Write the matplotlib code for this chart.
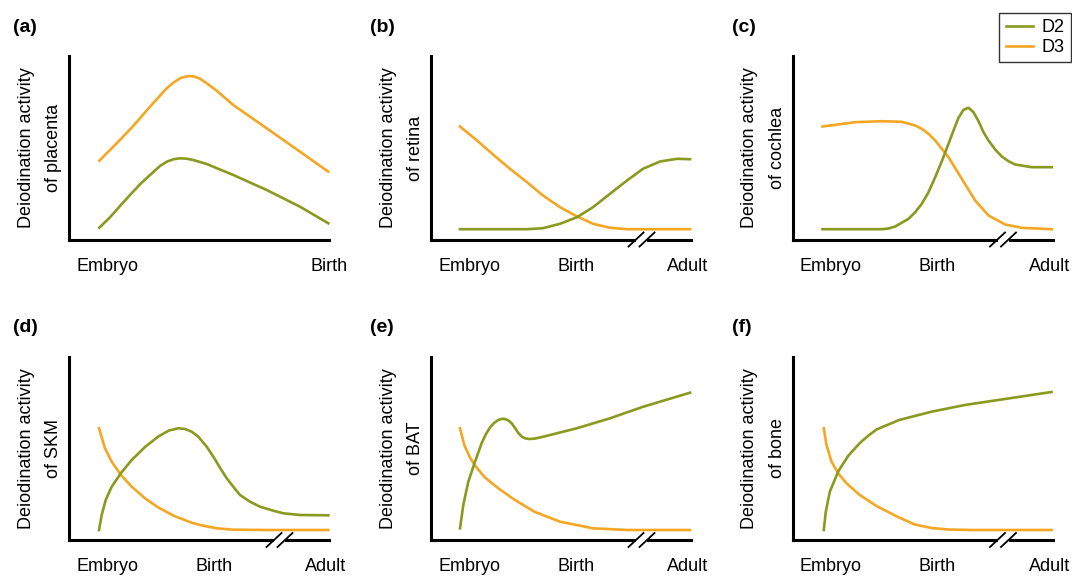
import matplotlib.pyplot as plt
from matplotlib.lines import Line2D

plt.rcParams['font.family'] = ['Liberation Sans', 'DejaVu Sans']
plt.rcParams['font.size'] = 13

GREEN = '#8a9a1f'
ORANGE = '#f5a623'

placenta_d2_x = [30.3, 41, 51, 61, 71, 81, 91, 97.7, 104.3, 111, 117.7, 124.3, 137.7, 164.3, 197.7, 231, 259.3]
placenta_d2_y = [11.8, 22.2, 33.5, 44.5, 55.2, 64.5, 73.5, 77.8, 80.2, 81.2, 80.8, 79.5, 75.5, 64.5, 49.5, 32.8, 16.2]
placenta_d3_x = [30.3, 47.7, 64.3, 81, 97.7, 104.3, 111, 116, 121, 126, 131, 137.7, 147.7, 164.3, 197.7, 231, 259.3]
placenta_d3_y = [78.8, 96.2, 113.5, 132.8, 151.2, 156.8, 161.2, 162.8, 163.5, 162.8, 160.8, 156.2, 148.8, 134.5, 111.2, 87.8, 67.8]

retina_d2_x = [29, 96, 112, 129, 146, 162, 179, 196, 212, 229, 246, 259]
retina_d2_y = [10.3, 10.3, 11.3, 15.7, 22.3, 32.3, 45.7, 59, 70.7, 78, 80.7, 80.3]
retina_d3_x = [29, 46, 62, 79, 96, 112, 129, 146, 162, 179, 196, 259]
retina_d3_y = [113, 99, 85, 70.7, 57.3, 44, 32.3, 23, 15.7, 11.7, 10.3, 10.3]

cochlea_d2_x = [30, 89.3, 96, 102.7, 116, 122.7, 129.3, 136, 142.7, 149.3, 156, 161, 166, 171, 176,
                181, 186, 191, 196, 202.7, 209.3, 216, 222.7, 239.3, 259.3]
cochlea_d2_y = [10.3, 10.3, 11, 13, 20.7, 27.3, 35.7, 47.3, 62.3, 78.3, 95.7, 109, 121.7, 129.7, 131.7,
                127.3, 118.3, 107.3, 99, 90, 83, 78.3, 75, 72.3, 72.3]
cochlea_d3_x = [30, 62.7, 89.3, 109.3, 122.7, 129.3, 136, 142.7, 156, 169.3, 182.7, 196, 212.7, 229.3, 259.3]
cochlea_d3_y = [113, 117.3, 118.3, 117.7, 114, 110.7, 105.7, 99, 82.3, 60.7, 39, 24, 15, 11.7, 10.3]

skm_d2_x = [30, 32.7, 36.7, 42.7, 52, 62.7, 76, 89.3, 100, 109.3, 116, 122.7, 129.3, 137.7,
            144.3, 151, 157.7, 164.3, 171, 181, 191, 204.3, 214.3, 231, 259.3]
skm_d2_y = [10, 25, 40, 53.3, 67, 80, 93, 103.5, 109.5, 111.7, 111, 108.3, 103.3, 93.3,
            83.3, 72.3, 61.7, 53.3, 45, 38.3, 33.3, 29.3, 26.7, 25, 24.7]
skm_d3_x = [30, 36, 42.7, 52, 62.7, 76, 89.3, 105.3, 122, 131, 147.7, 164.3, 197.7, 259.3]
skm_d3_y = [111.7, 91.7, 78.3, 65, 53.3, 41.7, 32.5, 24, 17.5, 15, 11.7, 10.3, 10, 10]

bat_d2_x = [29, 32.3, 37.3, 44, 50.7, 55, 59, 63, 67.3, 71, 74, 77.5, 80.7, 84, 87.3, 90.7, 94, 98,
            103.3, 112.3, 145.7, 179, 212.3, 259]
bat_d2_y = [11.7, 35, 58.3, 78.3, 97, 106, 112.5, 117, 120, 121.2, 121, 119.5, 116.7, 112, 107, 103.5,
            101.7, 101, 101.3, 103.3, 111.7, 121.7, 133.3, 147.3]
bat_d3_x = [29, 33.3, 39, 44.7, 54, 67.3, 84, 103.3, 129, 162, 196, 259]
bat_d3_y = [111.7, 95, 82.5, 73.5, 62.5, 51.7, 40, 28.3, 18.3, 11.7, 10, 10]

bone_d2_x = [31.3, 33.3, 37.3, 45.7, 55.6, 67.3, 76, 84, 106.6, 139, 172.3, 205.7, 259]
bone_d2_y = [10, 28.3, 48.3, 68.5, 84, 97, 104.5, 110.5, 120, 128.3, 135, 140, 148]
bone_d3_x = [31.3, 34, 39, 45.7, 54, 67.3, 84, 106.6, 122.3, 139, 155.7, 180, 259]
bone_d3_y = [111.7, 95, 78.3, 66.7, 56.7, 45, 34, 22.5, 15.5, 12, 10.5, 10, 10]

stages_short = ['Embryo', 'Birth']
stages_short_x = [38, 260]
stages_long = ['Embryo', 'Birth', 'Adult']
stages_long_x = [38, 145, 257]

tissues = ['placenta', 'retina', 'cochlea', 'SKM', 'BAT', 'bone']
letters = ['(a)', '(b)', '(c)', '(d)', '(e)', '(f)']

panels = [
    (placenta_d2_x, placenta_d2_y, placenta_d3_x, placenta_d3_y),
    (retina_d2_x, retina_d2_y, retina_d3_x, retina_d3_y),
    (cochlea_d2_x, cochlea_d2_y, cochlea_d3_x, cochlea_d3_y),
    (skm_d2_x, skm_d2_y, skm_d3_x, skm_d3_y),
    (bat_d2_x, bat_d2_y, bat_d3_x, bat_d3_y),
    (bone_d2_x, bone_d2_y, bone_d3_x, bone_d3_y),
]

W, H = 1072, 578
fig = plt.figure(figsize=(W / 100, H / 100), dpi=100)

col_left = [69, 431, 792.5]
row_bottom = [239.5, 540]
letter_x = [13, 370, 732]
letter_y = [27, 327]
BREAK_X = 211

for i, (gx, gy, ox, oy) in enumerate(panels):
    r, c = divmod(i, 3)
    ax = fig.add_axes([col_left[c] / W, 1 - row_bottom[r] / H, 260 / W, 183 / H])
    ax.plot(ox, oy, color=ORANGE, lw=1.9, clip_on=False, solid_joinstyle='round')
    ax.plot(gx, gy, color=GREEN, lw=1.9, clip_on=False, solid_joinstyle='round')
    ax.set_xlim(0, 260)
    ax.set_ylim(0, 183)
    for s in ['top', 'right']:
        ax.spines[s].set_visible(False)
    for s in ['left', 'bottom']:
        ax.spines[s].set_linewidth(2.2)
        ax.spines[s].set_color('black')
    ax.set_yticks([])
    if i == 0:
        ax.set_xticks(stages_short_x, stages_short)
    else:
        ax.set_xticks(stages_long_x, stages_long)
        # axis break marks
        ax.plot([BREAK_X - 6, BREAK_X + 5], [0, 0], color='white', lw=4,
                clip_on=False, zorder=3, solid_capstyle='butt')
        for dx in (-6, 5):
            ax.plot([BREAK_X + dx - 7.5, BREAK_X + dx + 7.5], [-7, 7],
                    color='black', lw=1.3, clip_on=False, zorder=4)
    ax.tick_params(axis='x', length=0, pad=13)
    ax.set_ylabel('Deiodination activity\nof ' + tissues[i], linespacing=1.8, labelpad=5)
    fig.text(letter_x[c] / W, 1 - letter_y[r] / H, letters[i], fontweight='bold',
             fontsize=14, va='center', ha='left')

handles = [Line2D([], [], color=GREEN, lw=1.9), Line2D([], [], color=ORANGE, lw=1.9)]
leg = fig.legend(handles, ['D2', 'D3'], loc='upper right',
                 bbox_to_anchor=(1071 / W, 1 - 13 / H), frameon=True, fancybox=False,
                 edgecolor='black', handlelength=1.5, handletextpad=0.5,
                 borderpad=0.35, labelspacing=0.15, borderaxespad=0)
leg.get_frame().set_linewidth(1)

fig.savefig('out.png', dpi=100)
